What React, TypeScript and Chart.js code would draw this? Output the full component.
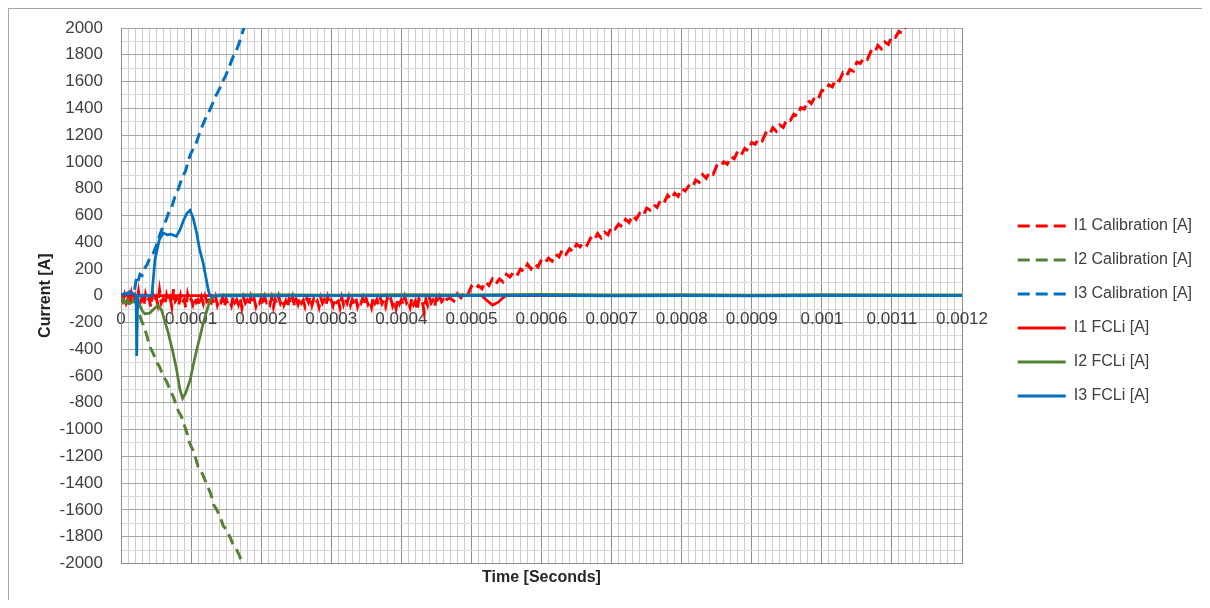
import React, { useEffect, useRef } from "react";
import { Chart, registerables } from "chart.js";

Chart.register(...registerables);

// ---- axis ranges / tick steps ----
const X_MIN = 0;
const X_MAX = 0.0012;
const X_MAJOR = 0.0001;
const X_MINOR = 0.00001;
const Y_MIN = -2000;
const Y_MAX = 2000;
const Y_MAJOR = 200;
const Y_MINOR = 100;

const SERIES_LABELS = [
  "I1 Calibration [A]",
  "I2 Calibration [A]",
  "I3 Calibration [A]",
  "I1 FCLi [A]",
  "I2 FCLi [A]",
  "I3 FCLi [A]",
];

// ---- I1 Calibration (red dashed) ----
// noisy part, sampled every 2.5 µs from 0 µs
const i1CalNoiseStartUs = 0;
const i1CalNoiseStepUs = 2.5;
const i1CalNoise = [
  -10, -40, 5, -55, -20, -70, 15, -45, -5, -60,
  30, -50, -15, -75, 10, -40, -20, -85, 20, -35,
  -10, -65, 40, -55, -25, -70, 5, -45, -15, -80,
  50, -40, -20, -70, 0, -55, -30, -90, 10, -45,
  -25, -65, -10, -50, -30, -75, -15, -60, -5, -45,
  -35, -80, -20, -55, -10, -70, -30, -50, -15, -85,
  -25, -60, -40, -75, -5, -50, -30, -65, -20, -90,
  -15, -55, -35, -70, -10, -60, -25, -80, -40, -55,
  -20, -75, -10, -50, -35, -65, -15, -85, -30, -60,
  -5, -55, -25, -70, -40, -90, -20, -60, -10, -75,
  -30, -65, -15, -55, -35, -80, -20, -50, -5, -70,
  -25, -60, -40, -85, -15, -55, -30, -70, -10, -60,
  -35, -75, -20, -50, -40, -90, -15, -65, -25, -55,
  -10, -70, -30, -60, -20, -80, -35, -55, -15, -75,
  -25, -65, -40, -85, -10, -55, -30, -70, -20, -60,
  -35, -80, -15, -50, -25, -75, -40, -95, -20, -60,
  -30, -70, -10, -55, -35, -85, -20, -65, -40, -110,
  -25, -60, -45, -120, -30, -70, -15, -55, -35, -80,
  -20, -60, -10, -45, -30, -55, -25,
];
// rising part, sampled every 5 µs from 470 µs
const i1CalRampStartUs = 470;
const i1CalRampStepUs = 5;
const i1CalRamp = [
  -20, -40, 15, -15, 30, 10, 70, 45, 75, 52,
  105, 77, 125, 88, 125, 103, 160, 140, 175, 150,
  200, 180, 235, 200, 240, 215, 270, 248, 280, 258,
  310, 290, 345, 310, 350, 327, 385, 365, 400, 378,
  430, 410, 465, 432, 475, 455, 515, 498, 535, 515,
  570, 547, 600, 570, 615, 595, 655, 640, 680, 660,
  715, 695, 750, 720, 765, 743, 800, 782, 820, 805,
  865, 847, 905, 878, 925, 907, 970, 958, 1000, 982,
  1040, 1023, 1080, 1052, 1100, 1083, 1145, 1132, 1175, 1158,
  1215, 1197, 1255, 1228, 1275, 1257, 1320, 1310, 1355, 1342,
  1405, 1395, 1460, 1435, 1485, 1470, 1535, 1528, 1575, 1560,
  1620, 1605, 1665, 1640, 1690, 1677, 1745, 1735, 1780, 1765,
  1825, 1810, 1870, 1845, 1895, 1877, 1940, 1930, 1975, 1960,
  2020,
];

// ---- I2 Calibration (green dashed) ----
const i2CalTimeUs = [
  0, 5, 10, 15, 20, 24, 28, 32, 37, 41, 46, 50, 55, 60, 65, 70, 75, 81, 86,
  91, 95, 98, 104, 110, 116, 122, 128, 132, 137, 142, 146, 151, 156, 160, 163,
  168, 172, 174,
];
const i2CalValues = [
  -20, -50, -30, -60, -40, -90, -170, -220, -300, -380, -430, -490, -530,
  -600, -640, -704, -760, -853, -900, -978, -1040, -1103, -1170, -1278, -1330,
  -1403, -1480, -1560, -1602, -1660, -1720, -1752, -1810, -1860, -1877, -1930,
  -1980, -2010,
];

// ---- I3 Calibration (blue dashed) ----
const i3CalTimeUs = [
  0, 5, 10, 15, 19, 22, 24, 27, 30, 33, 37, 41, 46, 50, 55, 60, 64, 68, 72,
  77, 82, 87, 92, 98, 103, 108, 113, 117, 122, 127, 131, 136, 141, 145, 149,
  153, 158, 162, 166, 170, 174, 176,
];
const i3CalValues = [
  0, 10, 20, 40, 30, 130, 100, 160, 150, 200, 230, 280, 316, 370, 450, 518,
  560, 620, 656, 740, 800, 880, 930, 1042, 1100, 1150, 1230, 1280, 1340, 1390,
  1440, 1500, 1550, 1600, 1640, 1688, 1760, 1810, 1850, 1910, 1978, 2010,
];

// ---- I1 FCLi (red solid) ----
const i1FcliTimeUs = [0, 10, 20, 30, 515, 522, 530, 538, 546, 550, 1200];
const i1FcliValues = [0, 5, 0, 0, 0, -35, -70, -50, -10, 0, 0];

// ---- I2 FCLi (green solid) ----
const i2FcliTimeUs = [
  0, 6, 12, 18, 22, 26, 30, 34, 41, 47, 53, 58, 67.5, 74, 79.5, 84, 88, 92,
  98.5, 103, 108, 113, 117.4, 122, 127, 132, 140, 200, 300, 400, 500, 600,
  700, 800, 900, 1000, 1100, 1200,
];
const i2FcliValues = [
  -10, -50, -60, -40, -20, -60, -110, -135, -130, -100, -70, -110, -280, -420,
  -557, -700, -767, -730, -633, -520, -404, -300, -204, -120, -34, 0, 6, 8, 5,
  8, 6, 9, 6, 8, 5, 8, 6, 7,
];

// ---- I3 FCLi (blue solid) ----
const i3FcliTimeUs = [
  0, 5, 10, 15, 20, 21.5, 22.4, 23.5, 24.5, 44, 48.5, 54.7, 60, 66, 71, 76,
  79, 84, 89, 94, 98.5, 103, 108, 112, 117.4, 124.6, 127, 130, 140, 200, 300,
  400, 500, 600, 700, 800, 900, 1000, 1100, 1200,
];
const i3FcliValues = [
  5, 15, 10, 20, 10, 0, -450, -100, 0, 0, 270, 419, 468, 455, 460, 450, 444,
  490, 560, 615, 638, 580, 468, 350, 241, 41, 0, -5, 0, -2, 1, -2, 0, 2, -1,
  1, -2, 0, 1, 0,
];

const RED = "#FF0000";
const GREEN = "#548235";
const BLUE = "#0070C0";

type Pt = { x: number; y: number };

function fromArrays(timesUs: number[], values: number[]): Pt[] {
  return timesUs.map((t, i) => ({ x: t * 1e-6, y: values[i] }));
}

function fromSampled(startUs: number, stepUs: number, values: number[]): Pt[] {
  return values.map((v, i) => ({ x: (startUs + i * stepUs) * 1e-6, y: v }));
}

function isMultiple(v: number, step: number): boolean {
  const r = v / step;
  return Math.abs(r - Math.round(r)) < 1e-6;
}

export default function App() {
  const canvasRef = useRef<HTMLCanvasElement | null>(null);

  useEffect(() => {
    if (!canvasRef.current) return;
    Chart.defaults.font.family = "'Liberation Sans', Arial, sans-serif";
    Chart.defaults.color = "#404040";

    const i1Cal = fromSampled(i1CalNoiseStartUs, i1CalNoiseStepUs, i1CalNoise).concat(
      fromSampled(i1CalRampStartUs, i1CalRampStepUs, i1CalRamp)
    );

    const dashed = [11, 6];
    const mk = (
      label: string,
      data: Pt[],
      color: string,
      dash: number[],
      width: number,
      order: number
    ) => ({
      label,
      data,
      borderColor: color,
      backgroundColor: color,
      borderWidth: width,
      borderDash: dash,
      pointRadius: 0,
      pointHoverRadius: 0,
      fill: false,
      tension: 0,
      order,
      xAxisID: "x",
      yAxisID: "y",
    });

    const defaultGen = (Chart.defaults.plugins.legend.labels as any).generateLabels;

    const chart = new Chart(canvasRef.current, {
      type: "line",
      data: {
        datasets: [
          mk(SERIES_LABELS[0], i1Cal, RED, dashed, 3, 6),
          mk(SERIES_LABELS[1], fromArrays(i2CalTimeUs, i2CalValues), GREEN, dashed, 3, 5),
          mk(SERIES_LABELS[2], fromArrays(i3CalTimeUs, i3CalValues), BLUE, dashed, 3, 4),
          mk(SERIES_LABELS[3], fromArrays(i1FcliTimeUs, i1FcliValues), RED, [], 2.75, 3),
          mk(SERIES_LABELS[4], fromArrays(i2FcliTimeUs, i2FcliValues), GREEN, [], 2.75, 2),
          mk(SERIES_LABELS[5], fromArrays(i3FcliTimeUs, i3FcliValues), BLUE, [], 2.75, 1),
        ],
      },
      options: {
        animation: false,
        responsive: true,
        maintainAspectRatio: false,
        events: [],
        layout: { padding: { left: 10, top: 19, right: 0, bottom: 6 } },
        plugins: {
          tooltip: { enabled: false },
          legend: {
            position: "right",
            maxWidth: 203,
            labels: {
              usePointStyle: true,
              pointStyle: "line",
              pointStyleWidth: 48,
              padding: 18,
              color: "#404040",
              font: { size: 16 },
              sort: (a: any, b: any) => a.datasetIndex - b.datasetIndex,
              generateLabels: (c: any) => {
                const items = defaultGen(c);
                items.forEach((it: any) => {
                  const ds = c.data.datasets[it.datasetIndex];
                  it.lineDash = ds.borderDash && ds.borderDash.length ? [12, 6] : [];
                  it.lineWidth = 3;
                  it.strokeStyle = ds.borderColor;
                  it.fillStyle = ds.borderColor;
                  it.pointStyle = "line";
                });
                return items;
              },
            },
          },
        },
        scales: {
          x: {
            type: "linear",
            position: "bottom",
            min: X_MIN,
            max: X_MAX,
            ticks: { display: false, stepSize: X_MINOR, autoSkip: false },
            grid: {
              drawTicks: false,
              lineWidth: 1,
              color: (c: any) =>
                c.tick && isMultiple(c.tick.value, X_MAJOR) ? "#8c8c8c" : "#cccccc",
            },
            border: { display: true, color: "#8c8c8c" },
            title: {
              display: true,
              text: "Time [Seconds]",
              color: "#262626",
              font: { size: 16, weight: "bold" },
              padding: { top: 5, bottom: 6.4 },
            },
          },
          x2: {
            type: "linear",
            axis: "x",
            position: { y: 0 },
            min: X_MIN,
            max: X_MAX,
            ticks: {
              stepSize: X_MAJOR,
              autoSkip: false,
              maxRotation: 0,
              minRotation: 0,
              padding: 13,
              color: "#404040",
              font: { size: 17 },
              callback: (v: any) => String(Number(Number(v).toFixed(5))),
            },
            grid: { display: false, drawTicks: false },
            border: { display: false },
          },
          y: {
            type: "linear",
            position: "left",
            min: Y_MIN,
            max: Y_MAX,
            ticks: {
              stepSize: Y_MINOR,
              autoSkip: false,
              padding: 8,
              color: "#404040",
              font: { size: 17 },
              callback: (v: any) => (isMultiple(Number(v), Y_MAJOR) ? String(v) : ""),
            },
            grid: {
              drawTicks: true,
              tickLength: 10,
              tickColor: "rgba(0,0,0,0)",
              lineWidth: 1,
              color: (c: any) =>
                c.tick && isMultiple(c.tick.value, Y_MAJOR) ? "#a6a6a6" : "#d9d9d9",
            },
            border: { display: true, color: "#8c8c8c" },
            title: {
              display: true,
              text: "Current [A]",
              color: "#262626",
              font: { size: 16, weight: "bold" },
              padding: { top: 17, bottom: 0 },
            },
            afterFit: (s: any) => {
              s.width = 102;
            },
          },
          y2: {
            type: "linear",
            axis: "y",
            position: "right",
            display: true,
            ticks: { display: false },
            grid: { display: false, drawTicks: false },
            border: { display: false },
            afterFit: (s: any) => {
              const lw = s.chart.legend ? s.chart.legend.width : 0;
              s.width = Math.max(0, 240 - lw);
            },
          },
        },
      } as any,
    });

    return () => chart.destroy();
  }, []);

  return (
    <div
      style={{
        width: 1194,
        height: 592,
        position: "relative",
        boxSizing: "border-box",
        borderTop: "1px solid #a6a6a6",
        borderLeft: "1px solid #a6a6a6",
      }}
    >
      <canvas ref={canvasRef} />
    </div>
  );
}
